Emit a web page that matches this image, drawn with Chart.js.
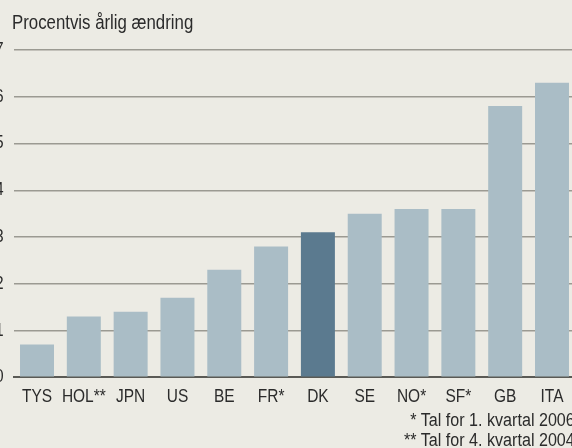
<!DOCTYPE html>
<html>
<head>
<meta charset="utf-8">
<script src="https://cdn.jsdelivr.net/npm/chart.js@4"></script>
<style>
  html, body { margin:0; padding:0; width:572px; height:448px; overflow:hidden; background:#ECEBE4; }
  #wrap { position:absolute; left:-26px; top:0; width:602px; height:448px; }
  .txt { position:absolute; font-family:"Liberation Sans",Arial,sans-serif; color:#2B2B2B; line-height:1; white-space:nowrap; }
  #title { left:12px; top:12.5px; font-size:19.5px; transform:scaleX(0.862); transform-origin:left top; }
  .note { right:-3px; font-size:18px; text-align:right; transform:scaleX(0.895); transform-origin:right top; }
</style>
</head>
<body>
<div id="wrap"><canvas id="c" width="602" height="448"></canvas></div>
<div id="title" class="txt">Procentvis årlig ændring</div>
<div class="txt note" style="top:410.8px;">* Tal for 1. kvartal 2006</div>
<div class="txt note" style="top:430.8px;">** Tal for 4. kvartal 2004</div>
<script>
const categories = ["TYS","HOL**","JPN","US","BE","FR*","DK","SE","NO*","SF*","GB","ITA"];
const values = [0.7, 1.3, 1.4, 1.7, 2.3, 2.8, 3.1, 3.5, 3.6, 3.6, 5.8, 6.3];
const highlight = "DK";
const yTicks = [0,1,2,3,4,5,6,7];

const FONT = "'Liberation Sans', Arial, sans-serif";
const colors = categories.map(c => c === highlight ? "#5B7A8F" : "#AABDC6");

// Condense canvas text horizontally (reference uses a condensed face)
const condensePlugin = {
  id: "condense",
  beforeDraw(chart) {
    const ctx = chart.ctx;
    if (!ctx._condensed) {
      const orig = CanvasRenderingContext2D.prototype.fillText;
      ctx.fillText = function (t, x, y) {
        this.save();
        this.translate(x, y);
        this.scale(0.86, 1);
        orig.call(this, t, 0, 0);
        this.restore();
      };
      ctx._condensed = true;
    }
  }
};

new Chart(document.getElementById("c"), {
  type: "bar",
  data: {
    labels: categories,
    datasets: [{
      data: values,
      backgroundColor: colors,
      borderWidth: 0,
      categoryPercentage: 1,
      barPercentage: 0.726
    }]
  },
  plugins: [condensePlugin],
  options: {
    responsive: false,
    animation: false,
    events: [],
    layout: { padding: { top: 50, bottom: 40.7, left: 0, right: 0.6 } },
    plugins: { legend: { display: false }, tooltip: { enabled: false }, title: { display: false } },
    scales: {
      x: {
        z: 1,
        offset: true,
        grid: { display: false, drawTicks: false },
        border: { display: true, color: "#5A5A55", width: 2 },
        ticks: { color: "#2B2B2B", font: { family: FONT, size: 18 }, padding: 9, maxRotation: 0, autoSkip: false },
        afterFit: s => { s.height = 30; }
      },
      y: {
        min: 0, max: 7,
        afterBuildTicks: s => { s.ticks = yTicks.map(v => ({ value: v })); },
        grid: {
          drawTicks: false,
          color: ctx => ctx.tick && ctx.tick.value === 0 ? "rgba(0,0,0,0)" : "#9B9A92",
          lineWidth: 1.5
        },
        border: { display: false },
        ticks: { color: "#2B2B2B", font: { family: FONT, size: 18 }, padding: 10 },
        afterFit: s => { s.width = 39.6; }
      }
    }
  }
});
</script>
</body>
</html>
